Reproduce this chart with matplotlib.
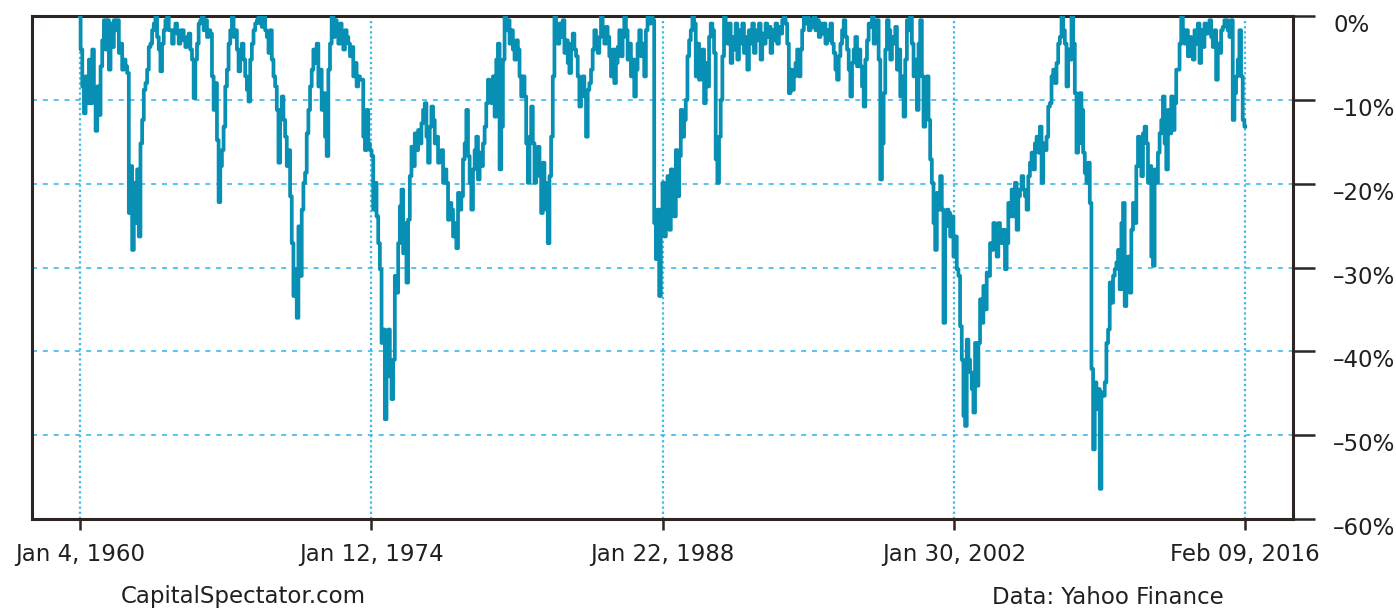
import numpy as np
import pandas as pd
import matplotlib
matplotlib.use("Agg")
import matplotlib.pyplot as plt
from matplotlib.transforms import ScaledTranslation

dd_1960_1973 = [
    0, -4, -8.4, -11.6, -7.2, -10.4, -5.2, -10.4, -4, -9.2,
    -13.7, -8.4, -11.8, -6, -2.9, -0.5, -4, -0.5, -6.4, -0.9,
    -3.7, -0.5, -1.7, -0.5, -4.4, -3.3, -6.4, -5.2, -6, -6.8,
    -23.5, -17.9, -27.9, -19.9, -24.7, -18.3, -26.3, -15.2, -12.4, -8.8,
    -8, -6.4, -3.7, -3.3, -1.7, -0.9, 0, -2.5, -4, -6.6,
    -3.3, -1.7, -0.5, 0, -1.7, -1.7, -3.3, -1.7, -0.9, -2.1,
    -3.3, -1.7, -1.7, -2.9, -3.7, -2.5, -2.1, -4, -5.2, -9.8,
    -5.2, -3.3, -0.9, -0.5, 0, -1.7, -0.5, -2.5, -1.7, -2.1,
    -7.2, -11.2, -8, -14.8, -22.2, -17.9, -16, -13.2, -8.4, -6.4,
    -3.3, -1.7, 0, -2.5, -1.7, -4, -6.6, -4, -3.3, -5.2,
    -7.2, -8.8, -10.2, -5.2, -3.3, -1.7, -0.9, -0.5, 0, -0.9,
    -1.3, 0, -1.7, -2.5, -4.4, -1.7, -5.2, -7.2, -8.4, -11.2,
    -17.5, -11.2, -9.6, -12.4, -14.4, -17.9, -16, -21.5, -27.1, -33.4,
    -30.2, -36, -25.1, -31, -23.1, -19.9, -18.7, -14, -11.2, -8.4,
    -6.4, -4, -5.6, -3.3, -8.4, -6.4, -11.2, -9.2, -14.4, -16.7,
    -6.4, -3.3, 0, -2.5, -0.5, -1.7, -3.3, -0.9, -2.5, -4,
    -1.7, -2.5, -3.3, -4.8, -3.7, -7.2, -5.6, -8.4, -7.2, -7.6,
    -7.6, -14.4, -16, -11.2, -15.2,
]
dd_1974_1987 = [
    -16, -16.7, -23.1, -19.9, -23.9, -27.1, -30.2, -39, -37.4, -48.1,
    -41, -37.4, -43, -45.7, -41, -31, -33, -27.1, -22.7, -20.7,
    -28.3, -24.7, -31.8, -24.3, -19.1, -15.6, -17.9, -14, -16, -13.6,
    -15.2, -12.8, -11.2, -10.4, -14.4, -17.5, -13.2, -10.8, -12.4, -15.2,
    -14.4, -17.5, -16.3, -16, -19.9, -18.3, -19.9, -24.3, -22.3, -23.1,
    -26.3, -24.7, -27.7, -21.1, -23.1, -21.5, -17.1, -15.2, -11.2, -16.7,
    -19.9, -23.1, -18.3, -16, -14.4, -19.5, -16.3, -17.9, -15.2, -13.2,
    -10.4, -7.6, -8.8, -10.4, -7.2, -12, -5.2, -3.3, -18.3, -13.2,
    -5.2, 0, -1.7, -0.5, -3.3, -1.7, -4, -5.2, -2.9, -4,
    -7.2, -9.6, -7.2, -9.6, -15.2, -19.9, -14.4, -10.8, -15.2, -19.9,
    -17.1, -15.6, -19.1, -23.5, -17.5, -19.9, -23.1, -27.1, -19.1, -14.4,
    -7.2, 0, -1.7, -3.3, -0.9, -2.5, -0.5, -4.4, -2.9, -5.6,
    -6.8, -3.3, -2.1, -4, -4.8, -7.2, -10.8, -8, -7.2, -9.6,
    -14.4, -8.8, -8, -6.4, -4, -1.7, -3.3, -4.4, -2.5, 0,
    -1.7, -3.3, -1.3, -2.5, -4.8, -7.2, -4, -8, -5.6, -3.7,
    -1.7, -4.8, -2.5, 0, -1.7, -5.2, -3.3, -7.2, -5.2, -9.6,
    -6.4, -3.3, -1.7, -4.8, -3.3, -7.2, -1.7, 0, -0.9, 0,
    -0.5, -24.7, -29, -23.1, -33.4,
]
dd_1988_2001 = [
    -23.1, -19.9, -26.3, -21.5, -19.1, -25.5, -18.3, -20.7, -23.9, -16,
    -21.5, -16.7, -11.2, -14.4, -12.4, -10, -4.8, -2.9, -1.7, 0,
    -0.9, -7.2, -3.3, -7.6, -5.2, -4, -10.4, -5.6, -8.4, -2.5,
    -0.9, -1.7, -4.4, -17.1, -19.9, -14.4, -10, -4.8, 0, -1.7,
    -3.3, -0.9, -5.6, -2.5, -4, -0.9, -5.2, -1.7, -3.3, -0.9,
    -4.4, -2.5, -6.4, -1.7, -3.3, -0.9, -4.4, -1.7, -2.9, -0.9,
    -5.2, -2.1, -3.3, -0.9, -2.5, -1.3, -4.4, -1.7, -2.9, -0.9,
    -3.3, -1.3, -2.1, -0.5, 0, -0.9, -3.3, -9.2, -6.4, -8.8,
    -7.2, -5.6, -4, -7.2, -4, -1.7, 0, -0.9, 0, -1.7,
    -0.5, -1.3, 0, -1.7, -0.5, -2.5, -0.9, -2.1, -0.9, -3.3,
    -1.7, -2.9, -0.9, -3.3, -4.4, -6.4, -7.6, -4.8, -3.3, -1.7,
    -0.5, -2.5, -4, -6.4, -9.6, -5.6, -4, -2.5, -6, -4,
    -6, -8.4, -10.8, -5.2, -2.9, -0.9, -1.3, 0, -3.3, -0.9,
    -0.5, -5.2, -19.5, -15.2, -9.2, -4, -0.5, -1.7, -5.2, -2.5,
    -3.3, -1.3, -6.4, -4, -9.6, -7.2, -12, -5.2, -0.5, -1.7,
    0, -3.3, -7.2, -5.2, -11.2, -3.3, -0.5, -7.2, -13.2, -9.2,
    -7.2, -12.4, -17.1, -19.9, -24.7, -27.9, -21.1, -23.1, -19.1, -23.1,
    -36.6,
]
dd_2001_2016 = [
    -25.1, -23.1, -23.5, -26.3, -23.9, -28.7, -26.3, -30.2, -31, -37,
    -41, -47.7, -48.9, -38.6, -41, -42.5, -44.5, -47.3, -39, -44.1,
    -39, -33.8, -36.6, -32.2, -35, -30.6, -31, -27.1, -27.9, -24.7,
    -26.3, -28.7, -24.7, -25.5, -27.1, -25.5, -30.2, -27.1, -22.3, -23.9,
    -20.7, -23.9, -19.9, -25.5, -21.5, -20.7, -19.1, -20.7, -21.5, -23.1,
    -19.1, -17.5, -16.3, -18.3, -15.2, -14.4, -16.3, -13.2, -19.9, -15.2,
    -16, -14.4, -10.8, -10.4, -7.2, -6.4, -8, -5.6, -3.3, -2.5,
    0, -1.7, -3.3, -8.4, -4, -5.2, 0, -3.3, -9.2, -16.3,
    -15.2, -9.2, -11.2, -16.3, -18.7, -19.9, -17.5, -22.3, -42.1, -51.7,
    -43.7, -46.9, -44.5, -56.4, -44.9, -45.3, -43.7, -39, -37.4, -31.8,
    -34.2, -31, -30.2, -29.4, -27.9, -32.6, -24.7, -22.3, -34.6, -32.6,
    -28.7, -33, -25.5, -22.3, -24.7, -17.9, -14.4, -17.9, -19.1, -14,
    -13.2, -15.2, -19.9, -17.9, -28.7, -29.8, -18.3, -19.9, -16.3, -14,
    -12.4, -9.6, -15.2, -18.3, -11.2, -14, -9.6, -13.6, -10.4, -6.4,
    -6.4, -3.3, 0, -1.7, -3.3, -1.7, -4.8, -2.5, -3.3, -5.2,
    -1.7, -3.3, -0.9, -5.6, -1.7, -3.7, -0.9, -2.1, -1.7, -0.5,
    -2.5, -3.7, -1.7, -7.6, -3.3, -4.4, -1.7, -1.3, -0.5, -0.5,
    -1.7, -2.5, -0.5, -12.4, -9.2, -7.2, -5.2, -1.7, -7.2, -12.4,
    -13.2,
]

tick_dates = ["1960-01-04", "1974-01-12", "1988-01-22", "2002-01-30", "2016-02-09"]
tick_labels = ["Jan 4, 1960", "Jan 12, 1974", "Jan 22, 1988", "Jan 30, 2002", "Feb 09, 2016"]
y_ticks = [0, -10, -20, -30, -40, -50, -60]
y_labels = ["0%", "\u201310%", "\u201320%", "\u201330%", "\u201340%", "\u201350%", "\u201360%"]

drawdown = np.array(dd_1960_1973 + dd_1974_1987 + dd_1988_2001 + dd_2001_2016)
dates = pd.date_range(tick_dates[0], tick_dates[-1], periods=len(drawdown))

line_col = "#0890b4"
grid_col = "#3cb9ec"
frame_col = "#2b2523"
text_col = "#231f20"
fsize = 16.5

fig = plt.figure(figsize=(13.96, 6.13), dpi=100)
ax = fig.add_axes([32 / 1396, 1 - 519 / 613, (1293 - 32) / 1396, (519 - 16) / 613])

# weekly-looking blocky trace
ax.plot(dates, drawdown, color=line_col, lw=2.7, drawstyle="steps-mid", zorder=3)

ax.set_ylim(-60, 0)
ax.margins(x=0.041)

ax.yaxis.tick_right()
ax.set_yticks(y_ticks)
ax.set_yticklabels(y_labels, fontsize=fsize, color=text_col)
ax.set_xticks(pd.to_datetime(tick_dates))
ax.set_xticklabels(tick_labels, fontsize=fsize, color=text_col)

ax.tick_params(axis="y", direction="out", length=16, width=1.8, color=frame_col, pad=13)
ax.tick_params(axis="x", direction="out", length=8, width=1.8, color=frame_col, pad=9)

# labels on the right sit a little below their ticks
shift = ScaledTranslation(0, -7 / 100, fig.dpi_scale_trans)
for lab in ax.get_yticklabels():
    lab.set_transform(lab.get_transform() + shift)

ax.yaxis.grid(True, linestyle=(0, (3, 3.5)), color=grid_col, lw=1.2, zorder=1)
ax.xaxis.grid(True, linestyle=(0, (1, 1.3)), color=grid_col, lw=1.6, zorder=1)

for s in ax.spines.values():
    s.set_color(frame_col)
    s.set_linewidth(2.2)

fig.text(243 / 1396, 1 - 597 / 613, "CapitalSpectator.com", ha="center", va="center",
         fontsize=fsize, color=text_col)
fig.text(1108 / 1396, 1 - 597 / 613, "Data: Yahoo Finance", ha="center", va="center",
         fontsize=fsize, color=text_col)

fig.savefig("out.png", dpi=100)
